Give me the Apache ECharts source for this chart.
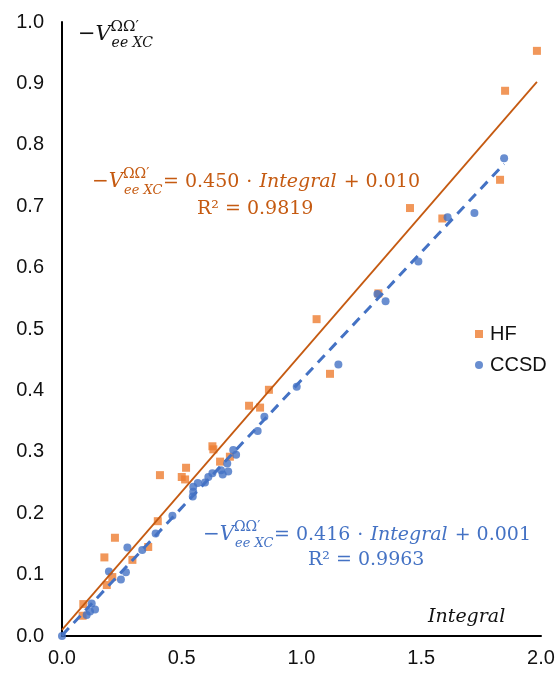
<!DOCTYPE html>
<html>
<head>
<meta charset="utf-8">
<script src="https://cdn.jsdelivr.net/npm/echarts@6/dist/echarts.min.js"></script>
<style>
  html, body { margin: 0; padding: 0; background: #fff; }
  #chart { width: 559px; height: 673px; }
</style>
</head>
<body>
<div id="chart"></div>
<script>
// Exchange-correlation interaction energy vs. overlap integral
const seriesNames = ['HF', 'CCSD'];

const hfX = [1.983, 1.850, 1.829, 1.453, 1.588, 1.321, 1.063, 1.119, 0.864, 0.781,
             0.827, 0.628, 0.632, 0.660, 0.701, 0.518, 0.500, 0.514, 0.409, 0.400,
             0.360, 0.294, 0.221, 0.177, 0.210, 0.187, 0.089, 0.086];
const hfY = [0.953, 0.888, 0.743, 0.697, 0.680, 0.558, 0.516, 0.427, 0.401, 0.375,
             0.372, 0.309, 0.304, 0.284, 0.292, 0.274, 0.259, 0.255, 0.262, 0.187,
             0.145, 0.124, 0.160, 0.128, 0.096, 0.083, 0.052, 0.033];

const ccsdX = [0.000, 0.103, 0.117, 0.138, 0.124, 0.196, 0.246, 0.267, 0.273, 0.335,
               0.391, 0.461, 0.546, 0.548, 0.548, 0.567, 0.597, 0.611, 0.628, 0.664,
               0.671, 0.694, 0.690, 0.727, 0.715, 0.817, 0.845, 0.980, 1.154, 1.317,
               1.351, 1.488, 1.610, 1.722, 1.846];
const ccsdY = [0.000, 0.034, 0.040, 0.043, 0.053, 0.105, 0.092, 0.104, 0.144, 0.140,
               0.167, 0.196, 0.227, 0.235, 0.243, 0.249, 0.250, 0.259, 0.265, 0.270,
               0.263, 0.268, 0.281, 0.295, 0.303, 0.334, 0.357, 0.406, 0.442, 0.557,
               0.545, 0.610, 0.682, 0.689, 0.778];

// Linear fits (slope, intercept) as reported in the annotations
const hfFit = { slope: 0.450, intercept: 0.010, r2: '0.9819' };
const ccsdFit = { slope: 0.416, intercept: 0.001, r2: '0.9963' };

const xTicks = { min: 0, max: 2, interval: 0.5 };
const yTicks = { min: 0, max: 1, interval: 0.1 };

const ORANGE = '#ED7D31';
const ORANGE_DARK = '#C55A11';
const BLUE = '#4472C4';
const SANS = '"Liberation Sans", Arial, sans-serif';
const SERIF = '"DejaVu Serif", serif';

const pairs = (xs, ys) => xs.map((x, i) => [x, ys[i]]);
const fitLine = (xs, fit) => {
  const xEnd = Math.max(...xs);
  return [[0, fit.intercept], [xEnd, fit.slope * xEnd + fit.intercept]];
};

function txt(x, y, text, font, fill, rich) {
  const style = { text: text, font: font, fill: fill,
                  align: 'left', verticalAlign: 'middle',
                  textAlign: 'left', textVerticalAlign: 'middle' };
  if (rich) style.rich = rich;
  return { type: 'text', x: x, y: y, silent: true, z: 100, style: style };
}

// −V with ΩΩ′ superscript and "ee XC" subscript
function symbolV(x, y, color, size) {
  const s = size || 20;
  const sub = Math.round(s * 0.66);
  return [
    txt(x, y, '−V', 'italic ' + s + 'px ' + SERIF, color),
    txt(x + s * 1.55, y - s * 0.36, 'ΩΩ′', (sub + 1) + 'px ' + SERIF, color),
    txt(x + s * 1.6, y + s * 0.42, 'ee XC', 'italic ' + sub + 'px ' + SERIF, color)
  ];
}

function equation(x, y, rx, ry, color, fit) {
  const els = symbolV(x, y, color, 20);
  const rich = {
    n: { fontFamily: SERIF, fontSize: 19, fill: color, color: color },
    s: { fontFamily: SERIF, fontSize: 19, fill: color, color: color, width: 7 },
    i: { fontFamily: SERIF, fontSize: 19, fontStyle: 'italic', fill: color, color: color }
  };
  const text = '{n|= ' + fit.slope.toFixed(3) + '}{s| }{n|·}{s| }{i|Integral}{s| }{n|+ ' +
               fit.intercept.toFixed(3) + '}';
  els.push(txt(x + 71, y, text, '19px ' + SERIF, color, rich));
  els.push(txt(rx, ry, 'R² = ' + fit.r2, '19px ' + SERIF, color));
  return els;
}

const chart = echarts.init(document.getElementById('chart'), null, { renderer: 'canvas' });

const axisCommon = {
  type: 'value',
  axisLine: { show: true, lineStyle: { color: '#000', width: 2 } },
  axisTick: { show: false },
  splitLine: { show: false },
  axisLabel: { color: '#111', fontSize: 20, fontFamily: SANS, formatter: v => v.toFixed(1) }
};

chart.setOption({
  animation: false,
  backgroundColor: '#fff',
  grid: { left: 62, right: 18, top: 22, bottom: 37, containLabel: false },
  xAxis: Object.assign({}, axisCommon, {
    min: xTicks.min, max: xTicks.max, interval: xTicks.interval,
    axisLabel: Object.assign({}, axisCommon.axisLabel, { margin: 12 })
  }),
  yAxis: Object.assign({}, axisCommon, {
    min: yTicks.min, max: yTicks.max, interval: yTicks.interval,
    axisLabel: Object.assign({}, axisCommon.axisLabel, { margin: 18 })
  }),
  legend: {
    orient: 'vertical', left: 470, top: 319,
    itemWidth: 8, itemHeight: 8, itemGap: 11,
    textStyle: { fontSize: 20, fontFamily: SANS, color: '#111', padding: [0, 0, 0, 2] },
    data: [
      { name: seriesNames[0], icon: 'rect' },
      { name: seriesNames[1], icon: 'circle' }
    ]
  },
  series: [
    {
      name: seriesNames[0], type: 'scatter', symbol: 'rect', symbolSize: 8, clip: false,
      itemStyle: { color: ORANGE }, data: pairs(hfX, hfY), z: 2
    },
    {
      name: seriesNames[1], type: 'scatter', symbol: 'circle', symbolSize: 8, clip: false,
      itemStyle: { color: BLUE }, data: pairs(ccsdX, ccsdY), z: 3
    },
    {
      type: 'line', data: fitLine(hfX, hfFit), showSymbol: false, symbol: 'none',
      lineStyle: { color: ORANGE_DARK, width: 1.8 }, silent: true, z: 4
    },
    {
      type: 'line', data: fitLine(ccsdX, ccsdFit), showSymbol: false, symbol: 'none',
      lineStyle: { color: BLUE, width: 3, type: [10, 7] }, silent: true, z: 5
    }
  ],
  graphic: [].concat(
    symbolV(78, 35, '#111', 21),
    [txt(428, 617, 'Integral', 'italic 19px ' + SERIF, '#111')],
    equation(92, 182, 197, 209, ORANGE_DARK, hfFit),
    equation(203, 535, 308, 560, BLUE, ccsdFit)
  )
});
</script>
</body>
</html>
